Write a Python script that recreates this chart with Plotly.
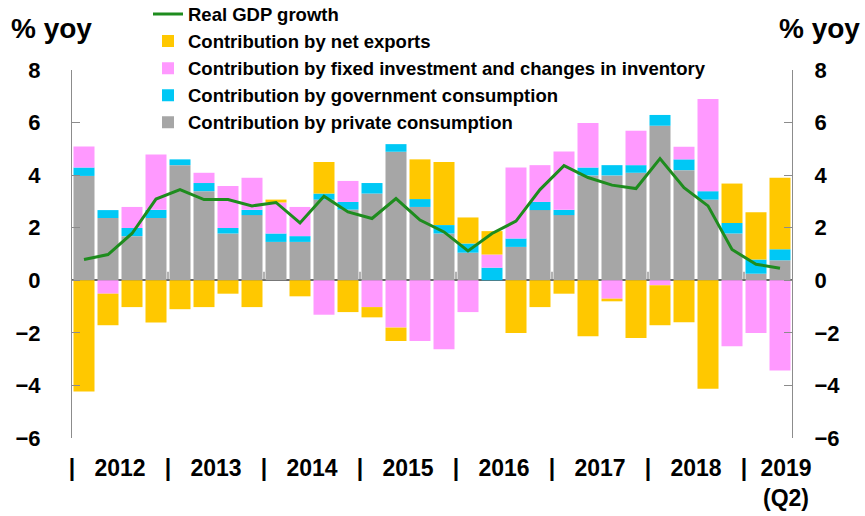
import plotly.graph_objects as go

# Quarterly periods, 2012 Q1 to 2019 Q2
quarters = [
    "2012Q1", "2012Q2", "2012Q3", "2012Q4",
    "2013Q1", "2013Q2", "2013Q3", "2013Q4",
    "2014Q1", "2014Q2", "2014Q3", "2014Q4",
    "2015Q1", "2015Q2", "2015Q3", "2015Q4",
    "2016Q1", "2016Q2", "2016Q3", "2016Q4",
    "2017Q1", "2017Q2", "2017Q3", "2017Q4",
    "2018Q1", "2018Q2", "2018Q3", "2018Q4",
    "2019Q1", "2019Q2",
]

# Contributions to growth, percentage points
private_consumption = [3.97, 2.37, 1.68, 2.37, 4.38, 3.39, 1.78, 2.48, 1.46, 1.46,
                       3.07, 2.69, 3.30, 4.89, 2.79, 1.78, 1.05, 0.00, 1.27, 2.67,
                       2.48, 3.99, 3.99, 4.09, 5.88, 4.19, 3.07, 1.78, 0.25, 0.76]
government_consumption = [0.32, 0.30, 0.31, 0.31, 0.22, 0.31, 0.21, 0.20, 0.32, 0.22,
                          0.23, 0.29, 0.40, 0.29, 0.30, 0.32, 0.35, 0.48, 0.32, 0.31,
                          0.20, 0.30, 0.39, 0.29, 0.41, 0.41, 0.32, 0.40, 0.54, 0.42]
investment_inventory = [0.80, -0.51, 0.80, 2.11, 0.00, 0.39, 1.60, 1.22, 1.18, 1.11,
                        -1.31, 0.80, -1.02, -1.80, -2.31, -2.62, -1.21, 0.50, 2.70, 1.40,
                        2.22, 1.69, -0.70, 1.31, -0.19, 0.48, 3.51, -2.51, -2.01, -3.43]
net_exports = [-4.23, -1.20, -1.02, -1.61, -1.10, -1.02, -0.51, -1.02, 0.11, -0.61,
               1.20, -1.21, -0.39, -0.51, 1.51, 2.40, 0.99, 0.89, -2.01, -1.02,
               -0.51, -2.13, -0.10, -2.20, -1.52, -1.60, -4.13, 1.50, 1.80, 2.72]

# Real GDP growth, % yoy
gdp_growth = [0.79, 0.98, 1.78, 3.09, 3.45, 3.07, 3.07, 2.83, 2.96, 2.18,
              3.20, 2.60, 2.35, 3.11, 2.29, 1.84, 1.12, 1.78, 2.25, 3.45,
              4.36, 3.91, 3.62, 3.49, 4.63, 3.52, 2.83, 1.17, 0.61, 0.46]

# Year axis labels
years = ["2012", "2013", "2014", "2015", "2016", "2017", "2018", "2019"]
year_labels = ["2012", "2013", "2014", "2015", "2016", "2017", "2018", "2019<br>(Q2)"]
y_ticks = [-6, -4, -2, 0, 2, 4, 6, 8]

FONT = "Arial, Liberation Sans, sans-serif"
C_NX = "#FFC800"
C_INV = "#FF99FF"
C_GOV = "#00C8F5"
C_PC = "#A6A6A6"
C_GDP = "#1E8C1E"

x = list(range(len(quarters)))

# Year positions derived from the quarter list
year_idx = {yr: [i for i, q in enumerate(quarters) if q.startswith(yr)] for yr in years}
boundaries = [min(year_idx[yr]) - 0.5 for yr in years]
centers = []
for yr in years:
    idx = year_idx[yr]
    c = sum(idx) / len(idx)
    if len(idx) < 4:
        c += 0.75  # partial year label sits a little right of its two bars
    centers.append(c)

tickvals = boundaries + centers
ticktext = ["|"] * len(boundaries) + year_labels

fig = go.Figure()

# Stacking order (bottom up): private, government, investment, net exports;
# legend order is the reverse, with the GDP line on top.
bar_series = [
    ("Contribution by private consumption", private_consumption, C_PC, 5),
    ("Contribution by government consumption", government_consumption, C_GOV, 4),
    ("Contribution by fixed investment and changes in inventory", investment_inventory, C_INV, 3),
    ("Contribution by net exports", net_exports, C_NX, 2),
]
for name, vals, col, rank in bar_series:
    fig.add_trace(go.Bar(
        x=x, y=vals, name=name, marker=dict(color=col, line=dict(width=0)),
        legendrank=rank,
    ))

fig.add_trace(go.Scatter(
    x=x, y=gdp_growth, name="Real GDP growth", mode="lines",
    line=dict(color=C_GDP, width=3), yaxis="y2", legendrank=1,
))

# Year-boundary ticks on the zero line
for b in boundaries[1:]:
    fig.add_shape(type="line", xref="x", yref="y", x0=b, x1=b, y0=0, y1=0.32,
                  line=dict(color="#7F7F7F", width=1.2))

axis_common = dict(
    range=[-6, 8], tickvals=y_ticks, ticks="inside", ticklen=8, tickcolor="#8C8C8C",
    showline=True, linecolor="#8C8C8C", linewidth=1, showgrid=False,
    tickfont=dict(family=FONT, size=22, color="#000000", weight="bold"),
)

fig.update_layout(
    width=865, height=516,
    margin=dict(l=72, r=73, t=70, b=78, autoexpand=False),
    paper_bgcolor="white", plot_bgcolor="white",
    barmode="relative", bargap=0.125,
    showlegend=True,
    legend=dict(
        x=(148 - 72) / 720, y=1 + (70 + 4.5) / 368, xanchor="left", yanchor="top",
        traceorder="normal",
        font=dict(family=FONT, size=18.5, color="#000000", weight="bold"),
        bgcolor="rgba(0,0,0,0)", itemwidth=30,
    ),
    xaxis=dict(
        range=[-0.5, len(quarters) - 0.5], tickmode="array", tickvals=tickvals,
        ticktext=ticktext, ticks="", showline=False, showgrid=False, zeroline=False,
        tickfont=dict(family=FONT, size=23, color="#000000", weight="bold"),
        ticklabelstandoff=14,
    ),
    yaxis=dict(**axis_common, side="left", zeroline=True, zerolinecolor="#666666",
               zerolinewidth=1.5, ticklabelstandoff=26),
    yaxis2=dict(**axis_common, side="right", overlaying="y", zeroline=False,
                ticklabelstandoff=17),
    annotations=[
        dict(text="% yoy", xref="paper", yref="paper", x=(51 - 72) / 720,
             y=1 + (70 - 28) / 368, xanchor="center", yanchor="middle", showarrow=False,
             font=dict(family=FONT, size=28, color="#000000", weight="bold")),
        dict(text="% yoy", xref="paper", yref="paper", x=(819 - 72) / 720,
             y=1 + (70 - 28) / 368, xanchor="center", yanchor="middle", showarrow=False,
             font=dict(family=FONT, size=28, color="#000000", weight="bold")),
    ],
)

fig.write_html("out.html")
